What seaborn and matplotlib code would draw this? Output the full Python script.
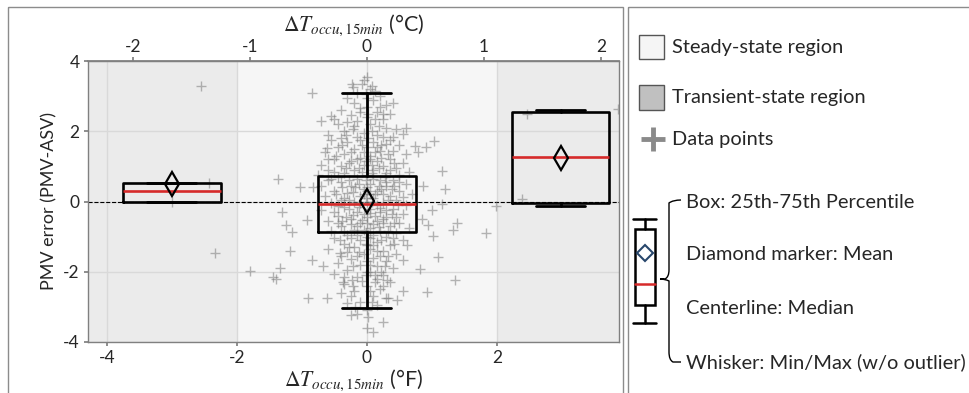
import numpy as np
import pandas as pd
import matplotlib.pyplot as plt
import seaborn as sns
from matplotlib.patches import Rectangle, PathPatch
from matplotlib.path import Path

# box statistics (x in degF, y = PMV error)
box_pos = [-3.0, 0.0, 2.98]
box_q1 = [0.0, -0.86, -0.04]
box_q3 = [0.54, 0.74, 2.54]
box_med = [0.29, -0.06, 1.26]
box_mean = [0.50, 0.02, 1.25]
box_lo = [0.0, -3.03, -0.14]
box_hi = [0.54, 3.08, 2.60]

# steady-state band (degF)
steady_lo, steady_hi = -2.0, 2.0

# scattered points away from the dense cloud
sparse_pts = [
    (-2.55, 3.29), (-2.43, 0.54), (-2.34, -1.46), (-1.80, -1.97), (-3.0, 0.0),
    (2.46, 2.49), (2.38, 0.06), (1.98, -0.14), (1.83, -0.89), (3.86, 2.63),
    (0.0, 3.54), (-0.23, 3.34), (-0.85, 3.09), (0.08, 3.29), (-0.08, 3.34),
    (-0.71, 2.29), (-0.55, 2.43), (0.40, 2.80), (1.03, 1.71), (0.91, 1.54),
    (0.74, 1.57), (0.78, 1.40), (-0.62, 1.51), (-0.60, 1.20), (1.15, 0.86),
    (1.20, 0.37), (-1.37, 0.63), (-1.03, 0.40), (-0.83, 0.40), (0.55, 1.91),
    (0.60, 2.10), (0.86, 0.43), (-1.31, -0.31), (-1.25, -0.66), (-1.15, -0.87),
    (-0.92, -0.54), (-1.18, -1.42), (-0.85, -1.66), (-0.68, -1.83), (-1.34, -1.88),
    (-1.45, -2.14), (-1.40, -2.20), (-0.91, -2.74), (-0.62, -2.74), (-0.25, -3.23),
    (0.02, -3.28), (0.25, -3.43), (0.0, -3.60), (0.10, -3.71), (0.82, -1.92),
    (1.09, -1.57), (1.02, -0.97), (1.35, -2.23), (0.92, -2.57), (0.55, -2.54),
    (0.46, -2.80), (1.32, -0.80), (1.38, -0.60), (0.85, -0.51), (0.94, -0.66),
    (1.00, -0.23), (1.15, -0.06), (0.62, -1.23), (0.55, -1.66), (-0.37, -2.29),
    (-0.23, -2.23), (-0.42, -1.46), (0.31, -2.23), (0.32, -2.74),
]

# dense cloud around zero
core_pts = [
    (-0.05, 3.45), (0.05, 3.2), (-0.15, 3.1), (0.2, 3.0), (-0.3, 2.95), (0.1, 2.9),
    (0.3, 2.75), (-0.2, 2.8), (-0.4, 2.6), (-0.1, 2.65), (0.15, 2.55), (0.35, 2.5),
    (-0.25, 2.45), (0.0, 2.4), (-0.5, 2.35), (0.25, 2.35), (-0.45, 2.2), (-0.2, 2.15),
    (0.05, 2.2), (0.3, 2.1), (0.45, 2.05), (-0.35, 2.0), (-0.05, 1.95), (0.15, 1.9),
    (-0.6, 1.9), (0.4, 1.85), (-0.55, 1.75), (-0.3, 1.7), (-0.1, 1.75), (0.1, 1.7),
    (0.3, 1.65), (0.5, 1.6), (-0.45, 1.55), (-0.2, 1.5), (0.0, 1.55), (0.2, 1.45),
    (0.4, 1.45), (-0.65, 1.4), (-0.35, 1.35), (0.6, 1.35), (0.05, 1.3), (-0.1, 1.25),
    (-0.5, 1.2), (-0.25, 1.15), (0.15, 1.15), (0.35, 1.2), (0.55, 1.1), (-0.7, 1.05),
    (-0.4, 1.0), (-0.05, 1.05), (0.25, 1.0), (0.45, 0.95), (-0.6, 0.9), (-0.2, 0.9),
    (0.1, 0.9), (0.65, 0.85), (-0.35, 0.8), (0.3, 0.8), (0.0, 0.75), (-0.75, 0.75),
    (0.5, 0.75), (-0.55, 0.65), (-0.15, 0.65), (0.2, 0.6), (0.4, 0.6), (-0.4, 0.55),
    (0.05, 0.5), (0.6, 0.5), (-0.7, 0.45), (-0.25, 0.45), (0.3, 0.45), (-0.05, 0.35),
    (0.15, 0.3), (-0.5, 0.3), (0.5, 0.3), (-0.3, 0.25), (0.7, 0.2), (0.35, 0.15),
    (-0.65, 0.15), (-0.1, 0.15), (0.1, 0.1), (0.45, 0.05), (-0.4, 0.05), (-0.2, 0.0),
    (0.0, 0.0), (0.25, -0.05), (-0.55, -0.05), (0.6, -0.1), (-0.35, -0.15), (0.05, -0.2),
    (0.4, -0.2), (-0.7, -0.25), (-0.15, -0.3), (0.2, -0.3), (0.55, -0.35), (-0.45, -0.4),
    (0.0, -0.45), (0.3, -0.45), (-0.25, -0.5), (0.15, -0.55), (-0.6, -0.55), (0.5, -0.6),
    (-0.1, -0.6), (0.35, -0.7), (-0.4, -0.7), (0.05, -0.75), (0.65, -0.75), (-0.2, -0.8),
    (0.2, -0.85), (-0.55, -0.85), (0.45, -0.9), (-0.3, -0.95), (0.0, -1.0), (0.3, -1.0),
    (-0.5, -1.05), (-0.1, -1.1), (0.15, -1.15), (0.55, -1.1), (-0.35, -1.2), (0.35, -1.25),
    (-0.2, -1.3), (0.05, -1.35), (-0.6, -1.35), (0.25, -1.4), (-0.05, -1.5), (0.45, -1.5),
    (-0.4, -1.55), (0.1, -1.6), (-0.25, -1.65), (0.3, -1.7), (-0.45, -1.75), (-0.1, -1.8),
    (0.15, -1.85), (0.4, -1.9), (-0.3, -1.95), (0.05, -2.0), (-0.5, -2.05), (0.25, -2.1),
    (-0.15, -2.15), (0.35, -2.3), (-0.35, -2.35), (0.0, -2.4), (0.2, -2.5), (-0.2, -2.55),
    (-0.4, -2.6), (0.1, -2.7), (0.3, -2.75), (-0.1, -2.85), (-0.3, -2.9), (0.15, -2.95),
    (0.0, -3.1), (-0.15, -3.2),
    (-0.08, 1.6), (0.12, 1.4), (-0.28, 1.1), (0.22, 1.25), (-0.12, 0.95), (0.08, 0.8),
    (-0.45, 0.7), (0.28, 0.7), (-0.02, 0.6), (0.18, 0.45), (-0.18, 0.4), (0.38, 0.35),
    (-0.35, 0.1), (0.05, 0.2), (0.25, 0.2), (-0.1, -0.05), (0.15, -0.1), (-0.28, -0.2),
    (0.3, -0.25), (-0.05, -0.35), (0.45, -0.45), (-0.38, -0.55), (0.1, -0.65), (-0.15, -0.7),
    (0.25, -0.6), (-0.02, -0.9), (0.4, -1.05), (-0.25, -1.05), (0.1, -1.25), (-0.12, -1.45),
    (0.2, -1.55), (-0.3, -1.45), (0.0, -1.7), (0.22, -2.0), (-0.08, -2.25), (0.12, -2.3),
    (-0.25, -2.7), (0.05, -2.55), (0.0, 2.7), (0.08, 2.0), (-0.15, 2.3), (0.2, 2.7),
    (-0.4, 1.8), (0.25, 1.85), (-0.02, 1.15), (0.0, 0.3), (0.0, -0.6), (0.0, -1.25),
    (0.0, 2.95), (0.0, -2.0),
    (-0.32, 1.9), (0.18, 2.15), (-0.22, 2.05), (0.35, 1.75), (-0.15, 1.85), (0.02, 1.8),
    (-0.38, 1.6), (0.22, 1.6), (-0.25, 1.4), (0.32, 1.35), (-0.05, 1.4), (0.15, 1.55),
    (-0.48, 1.3), (0.42, 1.1), (-0.15, 1.2), (0.08, 1.05), (-0.32, 0.95), (0.35, 0.9),
    (-0.5, 0.85), (0.18, 0.95), (-0.08, 0.85), (0.5, 0.55), (-0.28, 0.6), (0.1, 0.65),
    (-0.6, 0.6), (0.3, 0.55), (-0.12, 0.5), (0.22, 0.35), (-0.38, 0.4), (0.42, 0.45),
    (0.0, 0.42), (-0.22, 0.28), (0.12, 0.22), (-0.48, 0.2), (0.55, 0.12), (-0.02, 0.1),
    (0.32, 0.05), (-0.28, 0.05), (0.08, -0.02), (-0.45, -0.12), (0.48, -0.1), (-0.12, -0.15),
    (0.2, -0.18), (-0.22, -0.38), (0.38, -0.35), (0.05, -0.32), (-0.5, -0.3), (0.12, -0.42),
    (-0.32, -0.45), (0.25, -0.5), (-0.08, -0.52), (0.42, -0.62), (-0.45, -0.62), (-0.25, -0.65),
    (0.18, -0.72), (-0.05, -0.8), (0.32, -0.85), (-0.35, -0.85), (0.1, -0.95), (-0.15, -0.95),
    (0.22, -1.1), (-0.42, -1.1), (-0.02, -1.2), (0.42, -1.2), (-0.28, -1.3), (0.15, -1.4),
    (-0.15, -1.55), (0.32, -1.55), (0.05, -1.8), (-0.22, -1.85), (0.28, -1.85), (-0.02, -2.1),
    (-0.35, -2.15), (0.15, -2.2), (-0.22, -2.4), (0.25, -2.4), (0.08, -2.85), (-0.18, -3.0),
    (0.12, -2.1), (0.02, 2.5), (-0.1, 2.55), (0.12, 2.35), (-0.3, 2.25), (0.25, 2.5),
    (-0.02, 3.05), (0.12, 3.15), (-0.22, 3.25), (0.05, 1.2), (-0.05, 0.2), (0.05, -1.05),
]

pts = pd.DataFrame(sparse_pts + core_pts, columns=["dT_F", "err"])

sns.set_theme(style="white")
plt.rcParams["font.family"] = ["Lato", "DejaVu Sans"]
plt.rcParams["mathtext.fontset"] = "stix"
plt.rcParams["axes.unicode_minus"] = False

W, H = 969, 393
fig = plt.figure(figsize=(W / 100, H / 100), dpi=100)
fig.patch.set_facecolor("white")

ax = fig.add_axes([88 / W, 1 - 342 / H, (619 - 88) / W, (342 - 61) / H])
ax.set_facecolor("#f6f6f6")
xlim = (-4.29, 3.88)
ax.set_xlim(xlim)
ax.set_ylim(-4, 4)
ax.axvspan(xlim[0], steady_lo, color="#ebebeb", zorder=0, lw=0)
ax.axvspan(steady_hi, xlim[1], color="#ebebeb", zorder=0, lw=0)
ax.set_xticks([-4, -2, 0, 2])
ax.set_yticks([-4, -2, 0, 2, 4])
ax.grid(True, color="#d9d9d9", lw=1)
ax.set_axisbelow(True)
ax.axhline(0, color="black", ls="--", lw=0.8, zorder=1.5)

sns.scatterplot(data=pts, x="dT_F", y="err", marker="+", color="#7a7a7a",
                alpha=0.55, s=45, linewidth=1.0, ax=ax, zorder=2, legend=False)

stats = [dict(med=m, q1=a, q3=b, whislo=lo, whishi=hi, mean=mu, fliers=[])
         for m, a, b, lo, hi, mu in zip(box_med, box_q1, box_q3, box_lo, box_hi, box_mean)]
ax.bxp(stats, positions=box_pos, widths=1.5, capwidths=0.75, showmeans=True,
       showfliers=False, manage_ticks=False,
       boxprops=dict(color="black", lw=1.9),
       whiskerprops=dict(color="black", lw=2.0),
       capprops=dict(color="black", lw=2.0),
       medianprops=dict(color="#d62a2a", lw=1.9),
       meanprops=dict(marker="d", markerfacecolor="none", markeredgecolor="black",
                      markeredgewidth=1.6, markersize=12),
       zorder=3)

for s in ax.spines.values():
    s.set_color("#808080")
    s.set_linewidth(1)
ax.tick_params(axis="both", which="both", length=3, color="#808080",
               labelsize=12.5, pad=3, bottom=True, left=True)
ax.set_xlabel(r"$\Delta T_{occu,15min}$ (°F)", fontsize=15.5, labelpad=1)
ax.set_ylabel("PMV error (PMV-ASV)", fontsize=13, labelpad=4)

top = ax.secondary_xaxis("top", functions=(lambda f: f / 1.8, lambda c: c * 1.8))
top.set_xticks([-2, -1, 0, 1, 2])
top.tick_params(length=3, color="#808080", labelsize=12.5, pad=1)
top.spines["top"].set_color("#808080")
top.set_xlabel(r"$\Delta T_{occu,15min}$ (°C)", fontsize=15.5, labelpad=6)

# overlay in pixel coordinates for frames and the legend panel
ov = fig.add_axes([0, 0, 1, 1], facecolor="none")
ov.set_xlim(0, W)
ov.set_ylim(H, 0)
ov.axis("off")
frame = "#8c8c8c"
ov.add_patch(Rectangle((8, 7), 615, 400, fill=False, ec=frame, lw=1))
ov.add_patch(Rectangle((628, 7), 360, 400, fill=False, ec=frame, lw=1))

fs = 14.4
ov.add_patch(Rectangle((639, 35), 25, 24, fc="#f5f5f5", ec="#555555", lw=1))
ov.text(672, 47, "Steady-state region", fontsize=fs, va="center")
ov.add_patch(Rectangle((639, 85), 25, 25, fc="#c0c0c0", ec="#555555", lw=1))
ov.text(672, 97, "Transient-state region", fontsize=fs, va="center")
ov.plot([641, 665], [139, 139], color="#8a8a8a", lw=3.5, solid_capstyle="butt")
ov.plot([653, 653], [127, 151], color="#8a8a8a", lw=3.5, solid_capstyle="butt")
ov.text(672, 140, "Data points", fontsize=fs, va="center")

# legend glyph of a box
bx0, bx1, bxc = 635, 655, 645
ov.plot([633, 656], [219, 219], color="black", lw=1.8)
ov.plot([633, 656], [323, 323], color="black", lw=1.8)
ov.plot([bxc, bxc], [219, 229], color="black", lw=1.8)
ov.plot([bxc, bxc], [305, 323], color="black", lw=1.8)
ov.add_patch(Rectangle((bx0, 229), bx1 - bx0, 76, fill=False, ec="black", lw=1.8))
ov.plot([bx0, bx1], [284, 284], color="#d62a2a", lw=1.8)
ov.plot([bxc], [253], marker="D", ms=8, mfc="none", mec="#27466b", mew=1.5)

brace = Path(
    [(681, 200), (673, 200), (669, 203), (669, 211),
     (669, 270), (669, 277), (665, 279), (660, 279),
     (665, 279), (669, 281), (669, 288),
     (669, 352), (669, 360), (673, 362), (681, 362)],
    [Path.MOVETO, Path.CURVE3, Path.CURVE3, Path.LINETO,
     Path.LINETO, Path.CURVE3, Path.CURVE3, Path.LINETO,
     Path.CURVE3, Path.CURVE3, Path.LINETO,
     Path.LINETO, Path.CURVE3, Path.CURVE3, Path.LINETO],
)
ov.add_patch(PathPatch(brace, fill=False, ec="black", lw=1.0))

ov.text(686, 203, "Box: 25th-75th Percentile", fontsize=fs, va="center")
ov.text(686, 255, "Diamond marker: Mean", fontsize=fs, va="center")
ov.text(686, 308, "Centerline: Median", fontsize=fs, va="center")
ov.text(686, 362, "Whisker: Min/Max (w/o outlier)", fontsize=fs, va="center")

fig.savefig("out.png", dpi=100)
